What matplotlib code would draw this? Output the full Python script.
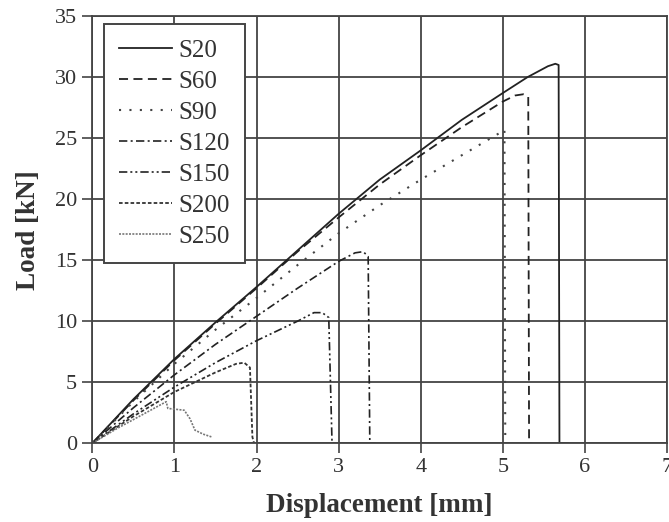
import numpy as np
import matplotlib
matplotlib.use("Agg")
import matplotlib.pyplot as plt

plt.rcParams['font.family'] = ['Liberation Serif', 'DejaVu Serif']

# --- data (displacement [mm], load [kN]) ---
s20_x = [0, 0.5, 1, 1.5, 2, 2.5, 3, 3.5, 4, 4.5, 5, 5.3, 5.55, 5.64, 5.68, 5.69, 5.79]
s20_y = [0, 3.6, 6.9, 9.9, 12.8, 15.8, 18.8, 21.6, 24.0, 26.5, 28.7, 30.0, 30.9, 31.1, 31.0, 0, 0]

s60_x = [0, 0.5, 1, 1.5, 2, 2.5, 3, 3.5, 4, 4.5, 5, 5.15, 5.25, 5.31, 5.32, 5.36]
s60_y = [0, 3.5, 6.8, 9.8, 12.7, 15.7, 18.5, 21.2, 23.6, 25.9, 28.0, 28.5, 28.6, 28.4, 0, 0]

s90_x = [0, 0.5, 1, 1.5, 2, 2.5, 3, 3.5, 4, 4.5, 4.98, 5.02, 5.03, 5.05]
s90_y = [0, 3.4, 6.5, 9.3, 11.9, 14.6, 17.2, 19.5, 21.6, 23.6, 25.5, 25.7, 0, 0]

s120_x = [0, 0.5, 1, 1.5, 2, 2.5, 3, 3.2, 3.3, 3.36, 3.38, 3.45]
s120_y = [0, 2.9, 5.6, 8.1, 10.4, 12.7, 14.9, 15.6, 15.7, 15.3, 0, 0]

s150_x = [0, 0.5, 1, 1.5, 2, 2.5, 2.7, 2.8, 2.88, 2.92, 2.95]
s150_y = [0, 2.4, 4.6, 6.6, 8.4, 10.0, 10.7, 10.7, 10.3, 0, 0]

s200_x = [0, 0.5, 1, 1.5, 1.75, 1.85, 1.92, 1.95, 1.97]
s200_y = [0, 2.2, 4.2, 5.8, 6.5, 6.6, 6.2, 0.5, 0]

s250_x = [0, 0.3, 0.6, 0.9, 0.92, 1.12, 1.19, 1.25, 1.35, 1.45]
s250_y = [0, 1.2, 2.3, 3.4, 2.85, 2.7, 2.0, 1.07, 0.74, 0.52]

labels = ['S20', 'S60', 'S90', 'S120', 'S150', 'S200', 'S250']
series = [(s20_x, s20_y), (s60_x, s60_y), (s90_x, s90_y), (s120_x, s120_y),
          (s150_x, s150_y), (s200_x, s200_y), (s250_x, s250_y)]

styles = [
    dict(color='#222222', linestyle='-', lw=1.3),
    dict(color='#222222', linestyle=(0, (5, 3)), lw=1.3),
    dict(color='#444444', linestyle=(0, (1, 4)), lw=1.5),
    dict(color='#222222', linestyle=(0, (5, 2, 1.2, 2)), lw=1.2),
    dict(color='#222222', linestyle=(0, (5, 1.8, 1.2, 1.8, 1.2, 1.8)), lw=1.2),
    dict(color='#333333', linestyle=(0, (2, 1.2)), lw=1.3),
    dict(color='#777777', linestyle=(0, (1.2, 0.8)), lw=1.2),
]

fig = plt.figure(figsize=(6.69, 5.22), dpi=100)
ax = fig.add_axes([0.138, 0.151, 0.859, 0.818])

for (x, y), lab, st in zip(series, labels, styles):
    ax.plot(x, y, label=lab, **st)

ax.set_xlim(0, 7)
ax.set_ylim(0, 35)
ax.set_xticks(range(0, 8))
ax.set_yticks(range(0, 36, 5))
ax.grid(True, color='#444444', linewidth=1.3)
ax.set_axisbelow(True)
for sp in ax.spines.values():
    sp.set_color('#444444')
    sp.set_linewidth(1.3)
ax.tick_params(direction='out', length=7, width=1.2, color='#444444',
               labelsize=16, labelcolor='#333333', pad=4)

ax.set_xlabel('Displacement [mm]', fontsize=19.5, fontweight='bold', color='#333333', labelpad=11)
ax.set_ylabel('Load [kN]', fontsize=19.5, fontweight='bold', color='#333333', labelpad=10)

leg = ax.legend(loc='upper left', bbox_to_anchor=(0.02, 0.982), fontsize=18,
                handlelength=2.1, handletextpad=0.25, labelspacing=0.34,
                borderpad=0.62, fancybox=False, framealpha=1, edgecolor='#444444',
                borderaxespad=0)
leg.get_frame().set_linewidth(1.4)
for t in leg.get_texts():
    t.set_color('#333333')

fig.savefig('out.png', dpi=100)
